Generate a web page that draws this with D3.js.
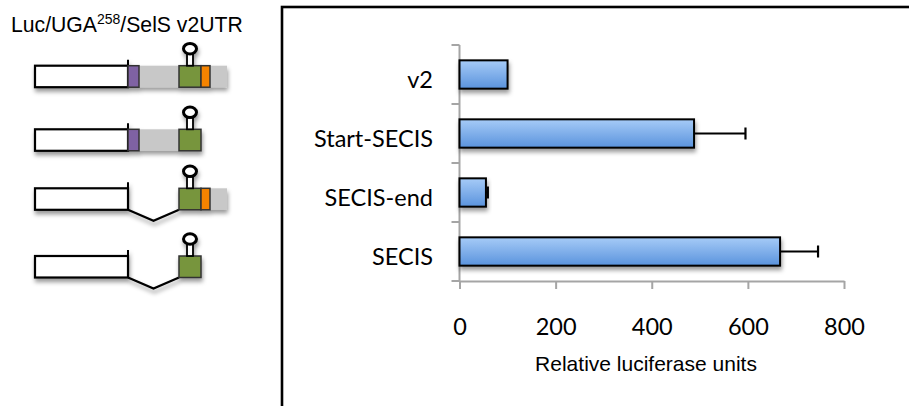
<!DOCTYPE html>
<html><head><meta charset="utf-8">
<script src="https://cdn.jsdelivr.net/npm/d3@7"></script>
<style>html,body{margin:0;padding:0;background:#fff;}svg{display:block;}</style>
</head><body>
<svg id="chart" width="909" height="406"></svg>
<script>
// ---- data ----
const categories = ["v2", "Start-SECIS", "SECIS-end", "SECIS"];
const values = [100, 488, 55, 667];
const errors = [0, 107, 4, 79];
const xTicks = [0, 200, 400, 600, 800];
const hasStartRegion = [true, true, false, false];
const hasEndRegion = [true, false, true, false];
const xTitle = "Relative luciferase units";

const svg = d3.select("#chart");
const defs = svg.append("defs");
const sh = defs.append("filter").attr("id", "shadow").attr("x", "-20%").attr("y", "-40%").attr("width", "140%").attr("height", "200%");
sh.append("feDropShadow").attr("dx", 1).attr("dy", 3.5).attr("stdDeviation", 2.2).attr("flood-color", "#000").attr("flood-opacity", 0.4);
const grad = defs.append("linearGradient").attr("id", "barGrad").attr("x1", 0).attr("y1", 0).attr("x2", 0).attr("y2", 1);
grad.append("stop").attr("offset", "0%").attr("stop-color", "#a6cbf7");
grad.append("stop").attr("offset", "100%").attr("stop-color", "#5a93dd");

// ---- frame ----
svg.append("rect").attr("x", 282).attr("y", 7).attr("width", 700).attr("height", 500)
  .attr("fill", "none").attr("stroke", "#000").attr("stroke-width", 2.6);

// ---- chart ----
const x = d3.scaleLinear().domain([0, 800]).range([459.5, 844]);
const y = d3.scaleBand().domain(categories).range([45, 281]).paddingInner(0.52).paddingOuter(0.26);
const axisColor = "#a5a5a5";
const catFont = "Lato, 'Liberation Sans', sans-serif";

// y axis: line + boundary ticks
const g = svg.append("g");
g.append("line").attr("x1", x(0)).attr("x2", x(0)).attr("y1", 45).attr("y2", 281)
  .attr("stroke", axisColor).attr("stroke-width", 2);
const bounds = categories.map(c => y(c) - y.step() * y.paddingInner() / 2).concat([281]);
g.selectAll(".yt").data(bounds).join("line").attr("class", "yt")
  .attr("x1", x(0) - 8).attr("x2", x(0)).attr("y1", d => d).attr("y2", d => d)
  .attr("stroke", axisColor).attr("stroke-width", 2);

// x axis
const xAxis = svg.append("g").attr("transform", "translate(0,281)")
  .call(d3.axisBottom(x).tickValues(xTicks).tickSize(8).tickPadding(29).tickSizeOuter(0));
xAxis.select(".domain").attr("stroke", axisColor).attr("stroke-width", 2);
xAxis.selectAll(".tick line").attr("stroke", axisColor).attr("stroke-width", 2);
xAxis.selectAll(".tick text").attr("fill", "#000").attr("font-family", catFont).attr("font-size", 23.5);

// category labels
svg.selectAll(".cat").data(categories).join("text").attr("class", "cat")
  .attr("x", 433).attr("y", d => y(d) + y.bandwidth() / 2 + 13)
  .attr("text-anchor", "end").attr("font-family", catFont).attr("font-size", 23.5)
  .text(d => d);

// bars
const rows = categories.map((c, i) => ({ c, v: values[i], e: errors[i] }));
svg.selectAll(".bar").data(rows).join("rect").attr("class", "bar")
  .attr("x", x(0)).attr("y", d => y(d.c)).attr("width", d => x(d.v) - x(0)).attr("height", y.bandwidth())
  .attr("fill", "url(#barGrad)").attr("stroke", "#000").attr("stroke-width", 2).attr("filter", "url(#shadow)");

// error bars
const eb = svg.selectAll(".err").data(rows.filter(d => d.e > 0)).join("g").attr("class", "err");
eb.append("line").attr("x1", d => x(d.v)).attr("x2", d => x(d.v + d.e))
  .attr("y1", d => y(d.c) + y.bandwidth() / 2).attr("y2", d => y(d.c) + y.bandwidth() / 2)
  .attr("stroke", "#000").attr("stroke-width", 1.8);
eb.append("line").attr("x1", d => x(d.v + d.e)).attr("x2", d => x(d.v + d.e))
  .attr("y1", d => y(d.c) + y.bandwidth() / 2 - 6).attr("y2", d => y(d.c) + y.bandwidth() / 2 + 6)
  .attr("stroke", "#000").attr("stroke-width", 2.2);

// x title
svg.append("text").attr("x", 646).attr("y", 370.5).attr("text-anchor", "middle")
  .attr("font-family", "'Liberation Sans', Arial, sans-serif").attr("font-size", 21).text(xTitle);

// ---- construct diagrams ----
const title = svg.append("text").attr("x", 11).attr("y", 31.5)
  .attr("font-family", "'Liberation Sans', Arial, sans-serif").attr("font-size", 21.2);
title.append("tspan").text("Luc/UGA");
title.append("tspan").attr("font-size", 14).attr("dy", -7.5).text("258");
title.append("tspan").attr("dy", 7.5).text("/SelS v2UTR");

const rowTop = [65.7, 129.3, 188.3, 256];
const H = 21.5;
const X = { lucL: 35, lucR: 128, purR: 139, grnL: 179, grnR: 201, orR: 210, grayR: 227 };
categories.forEach((c, i) => {
  const t = rowTop[i];
  const d = svg.append("g").attr("filter", "url(#shadow)");
  if (hasStartRegion[i]) {
    d.append("rect").attr("x", X.purR).attr("y", t).attr("width", X.grnL - X.purR).attr("height", H).attr("fill", "#c8c8c8");
  } else {
    d.append("path").attr("d", `M${X.lucR},${t + H} L${(X.lucR + X.grnL) / 2},${t + H + 11} L${X.grnL},${t + H}`)
      .attr("fill", "none").attr("stroke", "#000").attr("stroke-width", 2.2);
  }
  if (hasEndRegion[i]) {
    d.append("rect").attr("x", X.orR).attr("y", t).attr("width", X.grayR - X.orR).attr("height", H).attr("fill", "#c8c8c8");
  }
  d.append("rect").attr("x", X.lucL).attr("y", t).attr("width", X.lucR - X.lucL).attr("height", H)
    .attr("fill", "#fff").attr("stroke", "#000").attr("stroke-width", 2.2);
  d.append("line").attr("x1", X.lucR).attr("x2", X.lucR).attr("y1", t - 6).attr("y2", t + H)
    .attr("stroke", "#000").attr("stroke-width", 2);
  if (hasStartRegion[i]) {
    d.append("rect").attr("x", X.lucR).attr("y", t).attr("width", X.purR - X.lucR).attr("height", H)
      .attr("fill", "#7f62a3").attr("stroke", "#333").attr("stroke-width", 1.5);
  }
  d.append("rect").attr("x", X.grnL).attr("y", t).attr("width", X.grnR - X.grnL).attr("height", H)
    .attr("fill", "#77953d").attr("stroke", "#333").attr("stroke-width", 1.5);
  if (hasEndRegion[i]) {
    d.append("rect").attr("x", X.grnR).attr("y", t).attr("width", X.orR - X.grnR).attr("height", H)
      .attr("fill", "#f58300").attr("stroke", "#333").attr("stroke-width", 1.5);
  }
  // stem-loop
  const cx = (X.grnL + X.grnR) / 2;
  d.append("rect").attr("x", cx - 3).attr("y", t - 12).attr("width", 6).attr("height", 12)
    .attr("fill", "#fff").attr("stroke", "#000").attr("stroke-width", 1.8);
  d.append("ellipse").attr("cx", cx).attr("cy", t - 17).attr("rx", 6.5).attr("ry", 5.2)
    .attr("fill", "#fff").attr("stroke", "#000").attr("stroke-width", 3);
});
</script>
</body></html>
